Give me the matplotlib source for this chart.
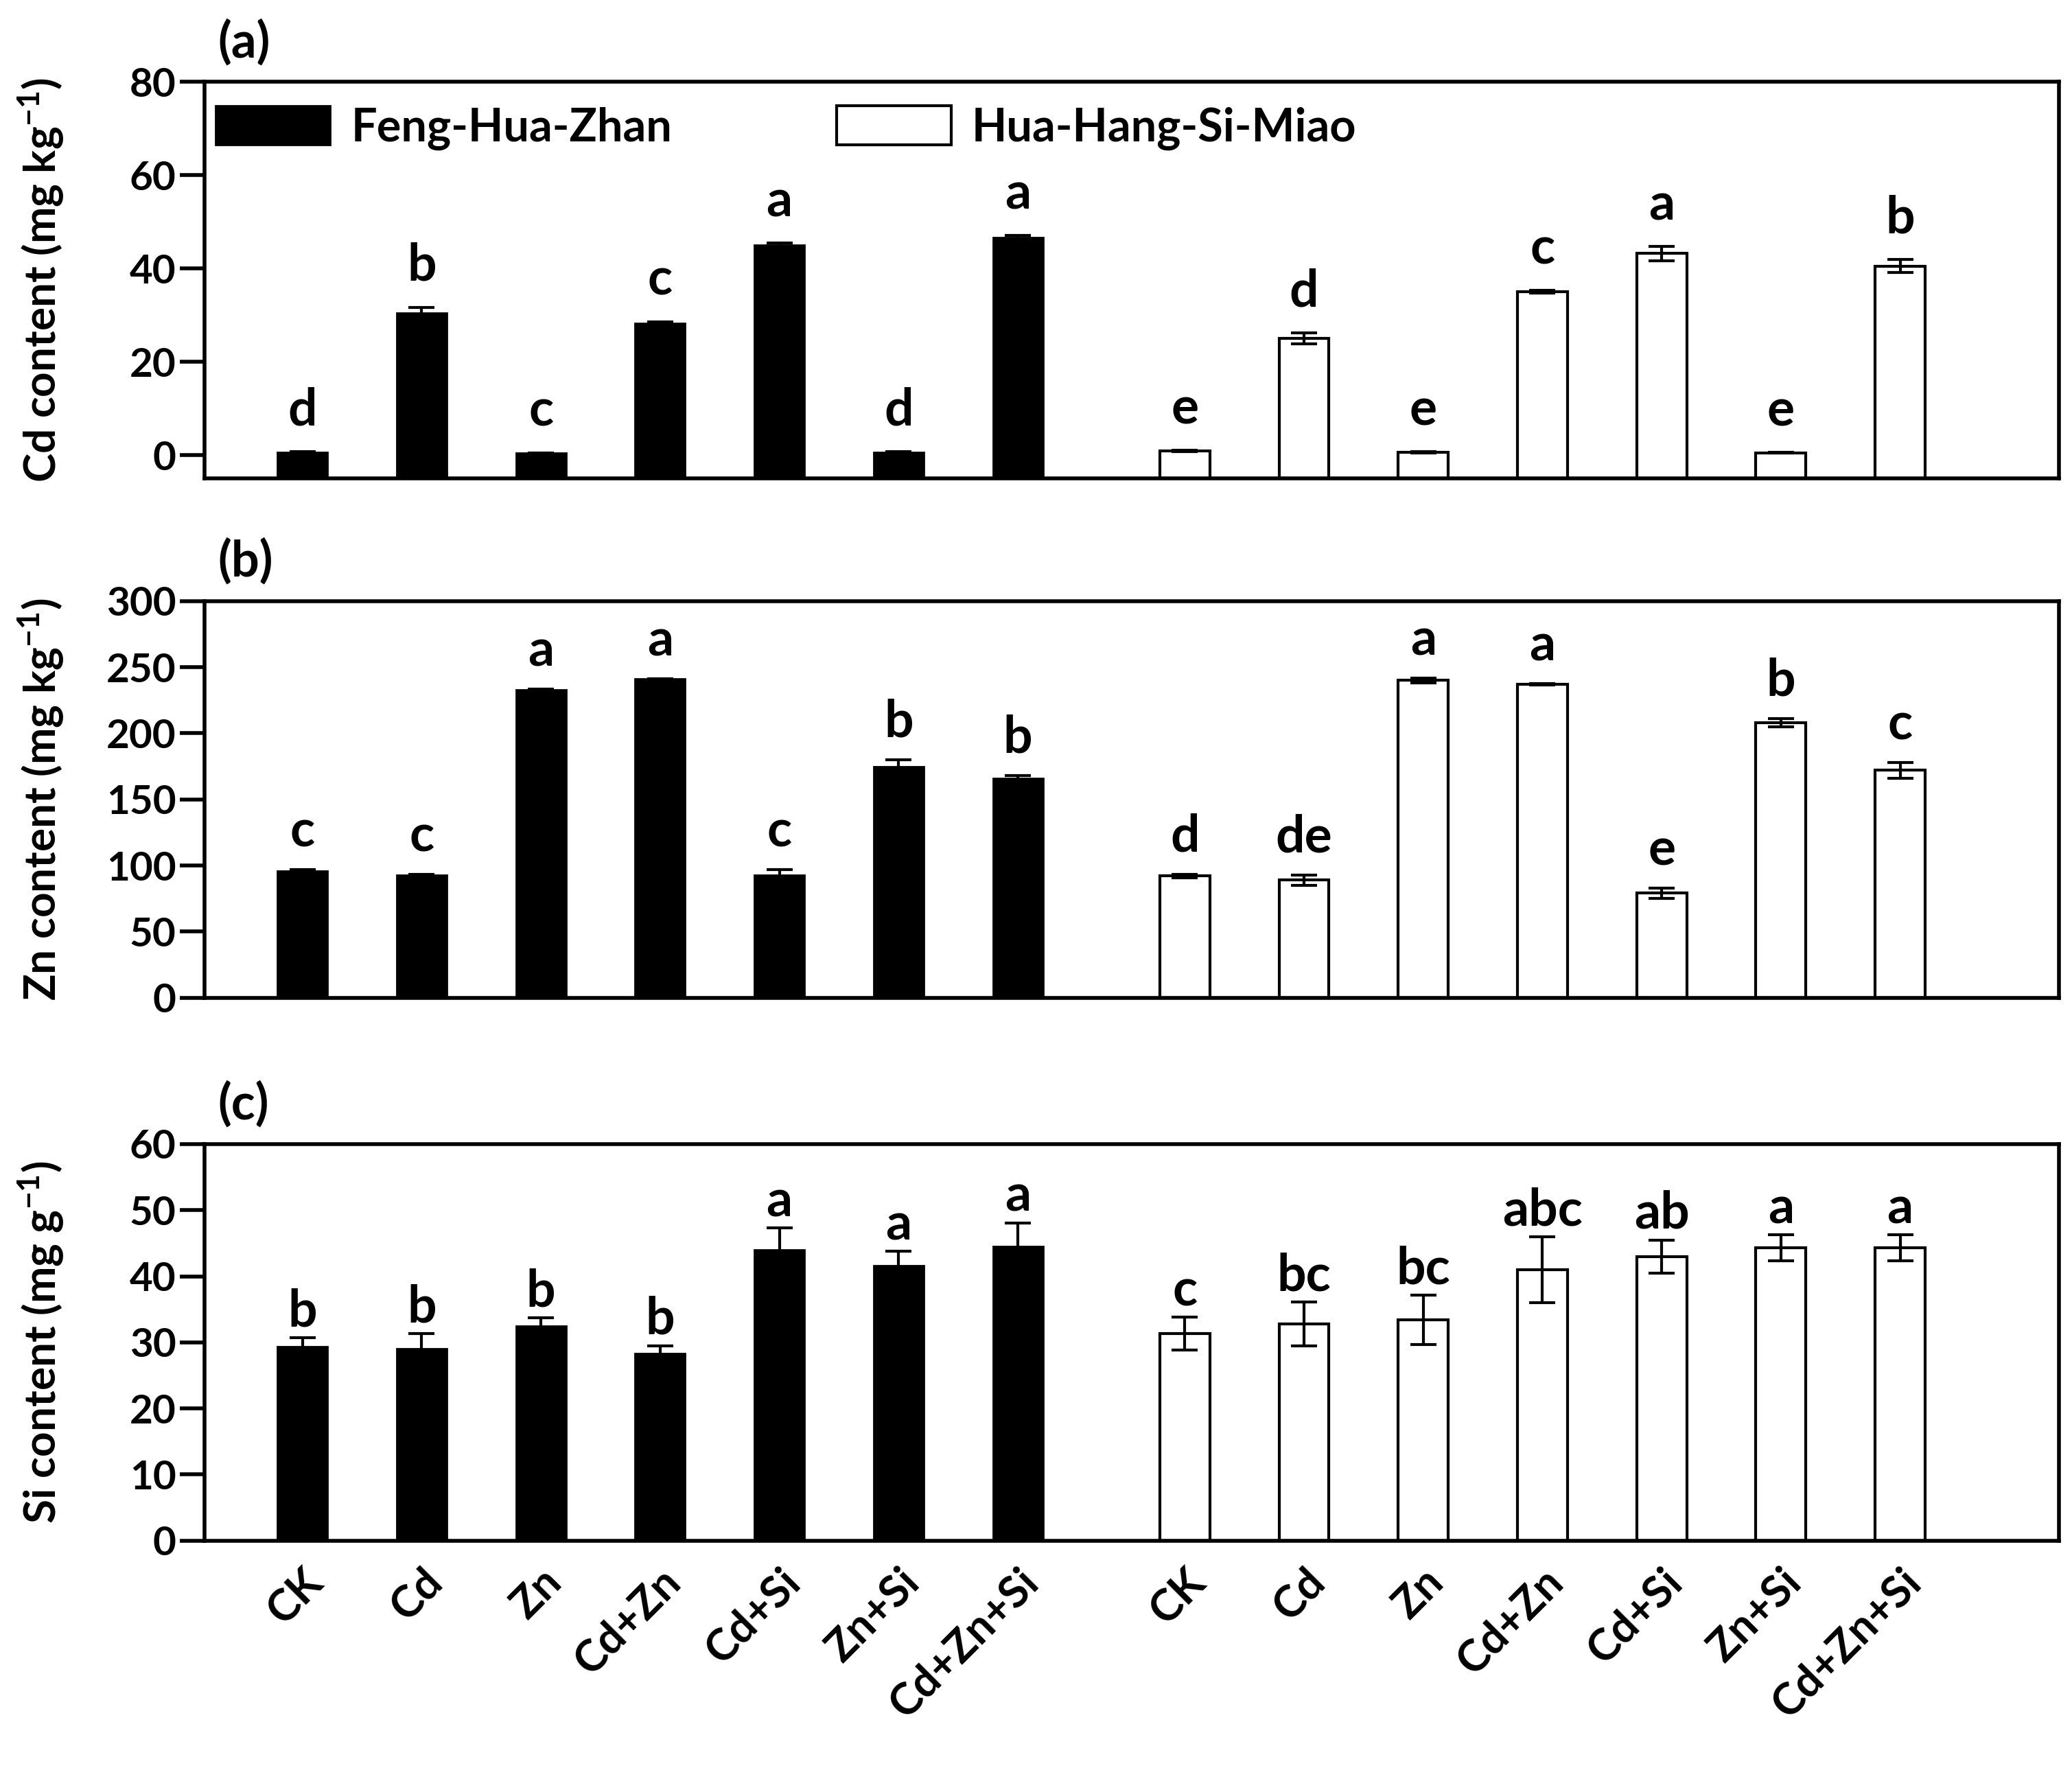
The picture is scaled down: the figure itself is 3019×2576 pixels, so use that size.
import numpy as np
import matplotlib
matplotlib.use('Agg')
from matplotlib import pyplot as plt

# Treatments and the two rice cultivars
treatments = ['CK', 'Cd', 'Zn', 'Cd+Zn', 'Cd+Si', 'Zn+Si', 'Cd+Zn+Si']
cultivars = ['Feng-Hua-Zhan', 'Hua-Hang-Si-Miao']

# (a) Cd content (mg kg-1)
cd_fhz = [0.6, 30.5, 0.4, 28.3, 45.0, 0.6, 46.7]
cd_fhz_err = [0.1, 1.2, 0.1, 0.3, 0.4, 0.1, 0.4]
cd_hhsm = [0.9, 25.0, 0.6, 35.0, 43.2, 0.5, 40.5]
cd_hhsm_err = [0.1, 1.2, 0.1, 0.3, 1.5, 0.1, 1.4]
cd_fhz_sig = ['d', 'b', 'c', 'c', 'a', 'd', 'a']
cd_hhsm_sig = ['e', 'd', 'e', 'c', 'a', 'e', 'b']

# (b) Zn content (mg kg-1)
zn_fhz = [96, 93, 233, 241, 93, 175, 166]
zn_fhz_err = [1, 0.5, 0.5, 0.5, 4, 5, 2]
zn_hhsm = [92, 89, 240, 237, 79, 208, 172]
zn_hhsm_err = [1.5, 4, 2, 0.5, 4, 3, 6]
zn_fhz_sig = ['c', 'c', 'a', 'a', 'c', 'b', 'b']
zn_hhsm_sig = ['d', 'de', 'a', 'a', 'e', 'b', 'c']

# (c) Si content (mg g-1)
si_fhz = [29.4, 29.0, 32.5, 28.3, 44.0, 41.6, 44.5]
si_fhz_err = [1.3, 2.3, 1.2, 1.2, 3.3, 2.2, 3.6]
si_hhsm = [31.3, 32.8, 33.4, 41.0, 43.0, 44.3, 44.3]
si_hhsm_err = [2.5, 3.3, 3.7, 5.0, 2.5, 2.0, 2.0]
si_fhz_sig = ['b', 'b', 'b', 'b', 'a', 'a', 'a']
si_hhsm_sig = ['c', 'bc', 'bc', 'abc', 'ab', 'a', 'a']


def main():
    plt.rcParams['font.family'] = ['Lato', 'DejaVu Sans']
    plt.rcParams['font.weight'] = 'bold'
    plt.rcParams['mathtext.fontset'] = 'custom'
    plt.rcParams['mathtext.rm'] = 'Lato:bold'
    plt.rcParams['mathtext.bf'] = 'Lato:bold'
    plt.rcParams['mathtext.default'] = 'bf'

    fig = plt.figure(figsize=(30.19, 25.76), dpi=100)

    x1 = np.arange(len(treatments))
    x2 = x1 + 7.4
    width = 0.42

    panels = [
        ('(a)', 'Cd content (mg kg$^{-1}$)', (-5, 80), np.arange(0, 81, 20),
         cd_fhz, cd_fhz_err, cd_hhsm, cd_hhsm_err, cd_fhz_sig, cd_hhsm_sig,
         [0.0988, 0.7294, 0.8948, 0.2243], 28),
        ('(b)', 'Zn content (mg kg$^{-1}$)', (0, 300), np.arange(0, 301, 50),
         zn_fhz, zn_fhz_err, zn_hhsm, zn_hhsm_err, zn_fhz_sig, zn_hhsm_sig,
         [0.0988, 0.4357, 0.8948, 0.2243], 24),
        ('(c)', 'Si content (mg g$^{-1}$)', (0, 60), np.arange(0, 61, 10),
         si_fhz, si_fhz_err, si_hhsm, si_hhsm_err, si_fhz_sig, si_hhsm_sig,
         [0.0988, 0.1286, 0.8948, 0.2243], 12),
    ]

    for i, (tag, ylabel, ylim, yticks, v1, e1, v2, e2, s1, s2, rect, off) in enumerate(panels):
        ax = fig.add_axes(rect)
        ylo = ylim[0]
        v1 = np.array(v1, dtype=float)
        v2 = np.array(v2, dtype=float)

        ax.bar(x1, v1 - ylo, bottom=ylo, width=width, color='black',
               edgecolor='black', linewidth=2, label=cultivars[0], zorder=2)
        ax.bar(x2, v2 - ylo, bottom=ylo, width=width, color='white',
               edgecolor='black', linewidth=3, label=cultivars[1], zorder=2)
        ax.errorbar(x1, v1, yerr=e1, fmt='none', ecolor='black',
                    elinewidth=3, capsize=14, capthick=3, zorder=3)
        ax.errorbar(x2, v2, yerr=e2, fmt='none', ecolor='black',
                    elinewidth=3, capsize=14, capthick=3, zorder=3)

        # significance letters
        for xs, vs, es, ss in [(x1, v1, e1, s1), (x2, v2, e2, s2)]:
            for xx, vv, ee, ss_ in zip(xs, vs, es, ss):
                ax.annotate(ss_, (xx, vv + ee), xytext=(0, off),
                            textcoords='offset points', ha='center',
                            va='baseline', fontsize=54, fontweight='bold')

        ax.set_ylim(ylim)
        ax.set_yticks(yticks)
        ax.set_xlim(-0.82, 14.73)
        for side in ['left', 'bottom', 'top', 'right']:
            ax.spines[side].set_linewidth(4)
        ax.tick_params(axis='y', direction='out', length=26, width=4,
                       labelsize=42, pad=4)
        ax.tick_params(axis='x', length=0)
        ax.set_ylabel(ylabel, fontsize=46, fontweight='bold')
        ax.yaxis.set_label_coords(-0.075, 0.5)
        ax.text(0.007, 1.04, tag, transform=ax.transAxes, fontsize=52,
                fontweight='bold', ha='left', va='bottom')

        if i == 2:
            ax.set_xticks(np.concatenate([x1, x2]))
            ax.set_xticklabels(treatments + treatments, rotation=45,
                               ha='right', va='top', rotation_mode='anchor',
                               fontsize=46, fontweight='bold')
            ax.tick_params(axis='x', pad=22)
        else:
            ax.set_xticks([])

        if i == 0:
            ax.legend(loc='upper left', bbox_to_anchor=(0.006, 0.94),
                      ncol=2, frameon=False, fontsize=48, handlelength=2.5,
                      handleheight=0.95, columnspacing=3.6,
                      handletextpad=0.45, borderaxespad=0, borderpad=0)

    fig.savefig('out.png', dpi=100)


if __name__ == '__main__':
    main()
